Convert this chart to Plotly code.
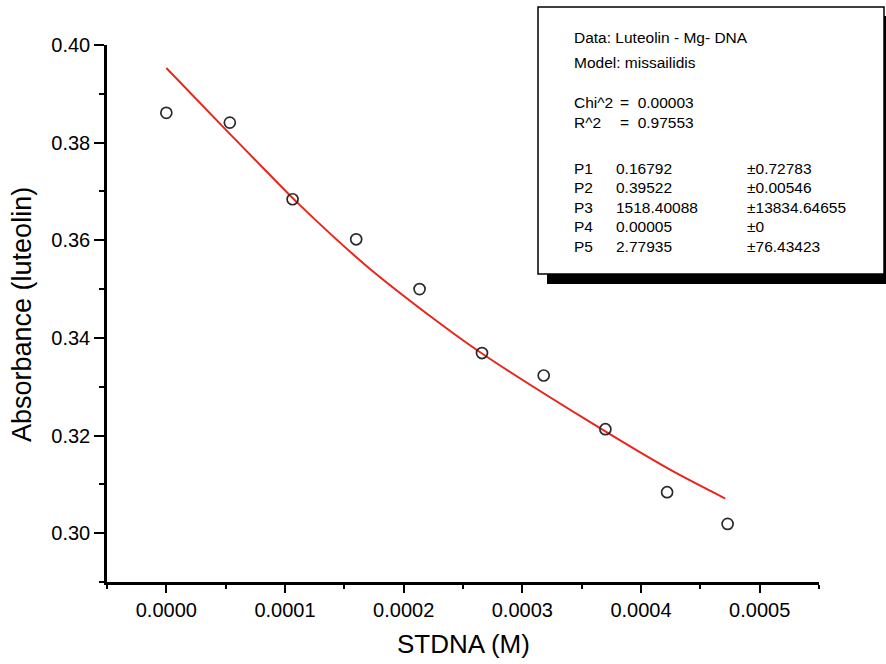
import plotly.graph_objects as go

# ---- data ----
stdna_M = [0.0, 0.0000535, 0.0001064, 0.000160, 0.0002134, 0.000266,
           0.000318, 0.000370, 0.000422, 0.000473]
absorbance = [0.3861, 0.3841, 0.3684, 0.3602, 0.3500, 0.3369,
              0.3323, 0.3213, 0.3084, 0.3019]

fit_x = [0.0, 0.0000535, 0.0000840, 0.0001121, 0.0001684, 0.0002304,
         0.000266, 0.0003514, 0.0004245, 0.000471]
fit_y = [0.3953, 0.3818, 0.3742, 0.3673, 0.3548, 0.3430,
         0.3368, 0.3236, 0.3130, 0.3071]

box_header = ["Data: Luteolin - Mg- DNA", "Model: missailidis"]
stat_names = ["Chi^2", "R^2"]
stat_values = ["=  0.00003", "=  0.97553"]
param_names = ["P1", "P2", "P3", "P4", "P5"]
param_values = ["0.16792", "0.39522", "1518.40088", "0.00005", "2.77935"]
param_errors = ["\u00b10.72783", "\u00b10.00546", "\u00b113834.64655", "\u00b10", "\u00b176.43423"]

# ---- layout geometry (page pixels) ----
W, H = 886, 664
L, R, T, B = 107, 67, 45, 82
PW, PH = W - L - R, H - T - B
FONT = "Liberation Sans, Arial, Helvetica, sans-serif"


def px_x(x):
    return (x - L) / PW


def px_y(y):
    return (H - B - y) / PH


fig = go.Figure()

fig.add_trace(go.Scatter(
    x=fit_x, y=fit_y, mode="lines",
    line=dict(color="#e8261c", width=2, shape="spline", smoothing=0.8),
    hoverinfo="skip", showlegend=False))

fig.add_trace(go.Scatter(
    x=stdna_M, y=absorbance, mode="markers",
    marker=dict(symbol="circle-open", size=11, color="#2a2a2a",
                line=dict(width=1.7, color="#2a2a2a")),
    showlegend=False))

axis_common = dict(
    showline=True, linecolor="black", linewidth=2.5, mirror=False,
    showgrid=False, zeroline=False, ticks="outside", tickcolor="black",
    tickwidth=2, tickfont=dict(family=FONT, size=20, color="black"),
)

fig.update_xaxes(
    range=[-0.00005, 0.00055], tick0=0, dtick=0.0001, tickformat=".4f",
    ticklen=8,
    minor=dict(ticks="outside", dtick=0.00005, tick0=-0.00005, ticklen=4,
               tickcolor="black", tickwidth=2),
    **axis_common)
fig.update_yaxes(
    range=[0.29, 0.40], tick0=0.30, dtick=0.02, tickformat=".2f",
    ticklen=10,
    minor=dict(ticks="outside", dtick=0.01, tick0=0.29, ticklen=5,
               tickcolor="black", tickwidth=2),
    **axis_common)

shapes = []
# shadow of the parameter box
shapes.append(dict(type="rect", xref="paper", yref="paper",
                   x0=px_x(547), x1=px_x(900), y0=px_y(284), y1=px_y(16),
                   fillcolor="black", line=dict(width=0), layer="above"))
# parameter box
shapes.append(dict(type="rect", xref="paper", yref="paper",
                   x0=px_x(538), x1=px_x(884), y0=px_y(274), y1=px_y(7),
                   fillcolor="white", line=dict(color="black", width=1.5),
                   layer="above"))

annotations = []


def txt(s, x, y):
    annotations.append(dict(text=s, xref="paper", yref="paper",
                            x=px_x(x), y=px_y(y), xanchor="left",
                            yanchor="middle", showarrow=False,
                            font=dict(family=FONT, size=15.5, color="black")))


rows = [38, 63]
for s, y in zip(box_header, rows):
    txt(s, 572, y)
for n, v, y in zip(stat_names, stat_values, [102, 122]):
    txt(n, 572, y)
    txt(v, 618, y)
for i, (n, v, e) in enumerate(zip(param_names, param_values, param_errors)):
    y = 168 + i * 19.6
    txt(n, 572, y)
    txt(v, 614, y)
    txt(e, 745, y)

# axis titles
annotations.append(dict(text="STDNA (M)", xref="paper", yref="paper",
                        x=px_x(463), y=px_y(644), xanchor="center",
                        yanchor="middle", showarrow=False,
                        font=dict(family=FONT, size=26, color="black")))
annotations.append(dict(text="Absorbance (luteolin)", xref="paper",
                        yref="paper", x=px_x(22), y=px_y(315),
                        xanchor="center", yanchor="middle", textangle=-90,
                        showarrow=False,
                        font=dict(family=FONT, size=27, color="black")))

fig.update_layout(
    width=W, height=H,
    margin=dict(l=L, r=R, t=T, b=B, autoexpand=False),
    paper_bgcolor="white", plot_bgcolor="white",
    shapes=shapes, annotations=annotations,
    showlegend=False,
)

fig.write_html(
    "out.html",
    config={"displayModeBar": False},
    post_script="document.body.style.margin='0px';"
                "document.body.style.overflow='hidden';",
)
